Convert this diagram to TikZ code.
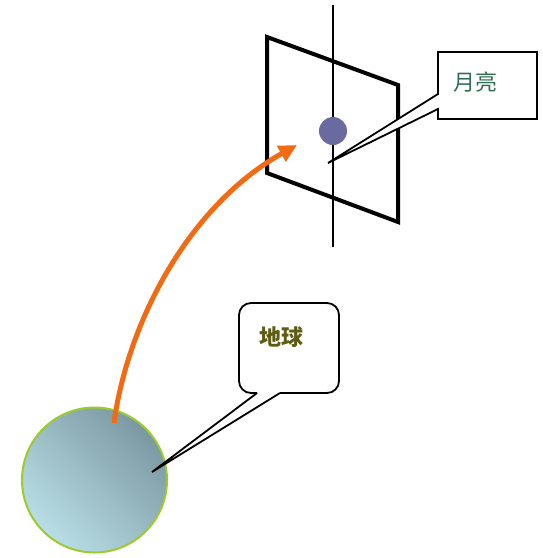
\documentclass[tikz,border=0pt]{standalone}
\usepackage{fontspec}
\newfontfamily\cjk{Noto Sans CJK SC}
\usetikzlibrary{arrows.meta}
\definecolor{arroworange}{HTML}{F26B12}
\definecolor{moonblue}{HTML}{6A6A9E}
\definecolor{earthlight}{HTML}{B9DEE6}
\definecolor{earthdark}{HTML}{7B98A2}
\definecolor{earthrim}{HTML}{9CCB2E}
\definecolor{moontext}{HTML}{2F6E55}
\definecolor{earthtext}{HTML}{5C5C12}
\tikzset{
  calloutline/.style={draw=black, line width=1.8pt, fill=white, line join=miter},
  labeltext/.style={font=\cjk\fontsize{22}{26}\selectfont, inner sep=0pt},
}
\begin{document}
\begin{tikzpicture}[x=1pt,y=-1pt]
\useasboundingbox (0,0) rectangle (543,558);
% plane
\draw[line width=4pt, line join=miter] (267,37) -- (398,85) -- (398,222) -- (267,173) -- cycle;
% axis
\coordinate (axtop) at (333,5);
\coordinate (axbot) at (333,247);
\draw[line width=1.2pt] (axtop) -- (axbot);
% moon
\node[circle, fill=moonblue, minimum size=28pt, inner sep=0pt] (moon) at (333,131) {};
% moon callout
\coordinate (moontip) at (328,163);
\draw[calloutline] (438,52) -- (537,52) -- (537,119) -- (438,119) -- (438,109) -- (moontip) -- (438,94) -- cycle;
\node[labeltext, text=moontext] (moonlabel) at (475,82) {月亮};
% earth
\node[circle, minimum size=145pt, inner sep=0pt, draw=earthrim, line width=2pt,
      left color=earthdark, right color=earthlight, shading angle=-45] (earth) at (94.5,480) {};
% earth callout
\coordinate (earthtip) at (152,472);
\draw[calloutline, rounded corners=12pt] (280,393) -- (339,393) -- (339,303) -- (239,303) -- (239,393) -- (257,393);
\draw[calloutline, fill=none] (257,393) -- (earthtip) -- (280,393);
\node[labeltext, text=earthtext, font=\cjk\bfseries\fontsize{22}{26}\selectfont] (earthlabel) at (281,337) {地球};
% orange trajectory
\coordinate (arrstart) at (114,423);
\coordinate (arrend) at (297,145);
\draw[arroworange, line width=5pt, -{Triangle[length=18pt,width=17pt]}] (arrstart) .. controls (128,320) and (190,205) .. (arrend);
\end{tikzpicture}
\end{document}
